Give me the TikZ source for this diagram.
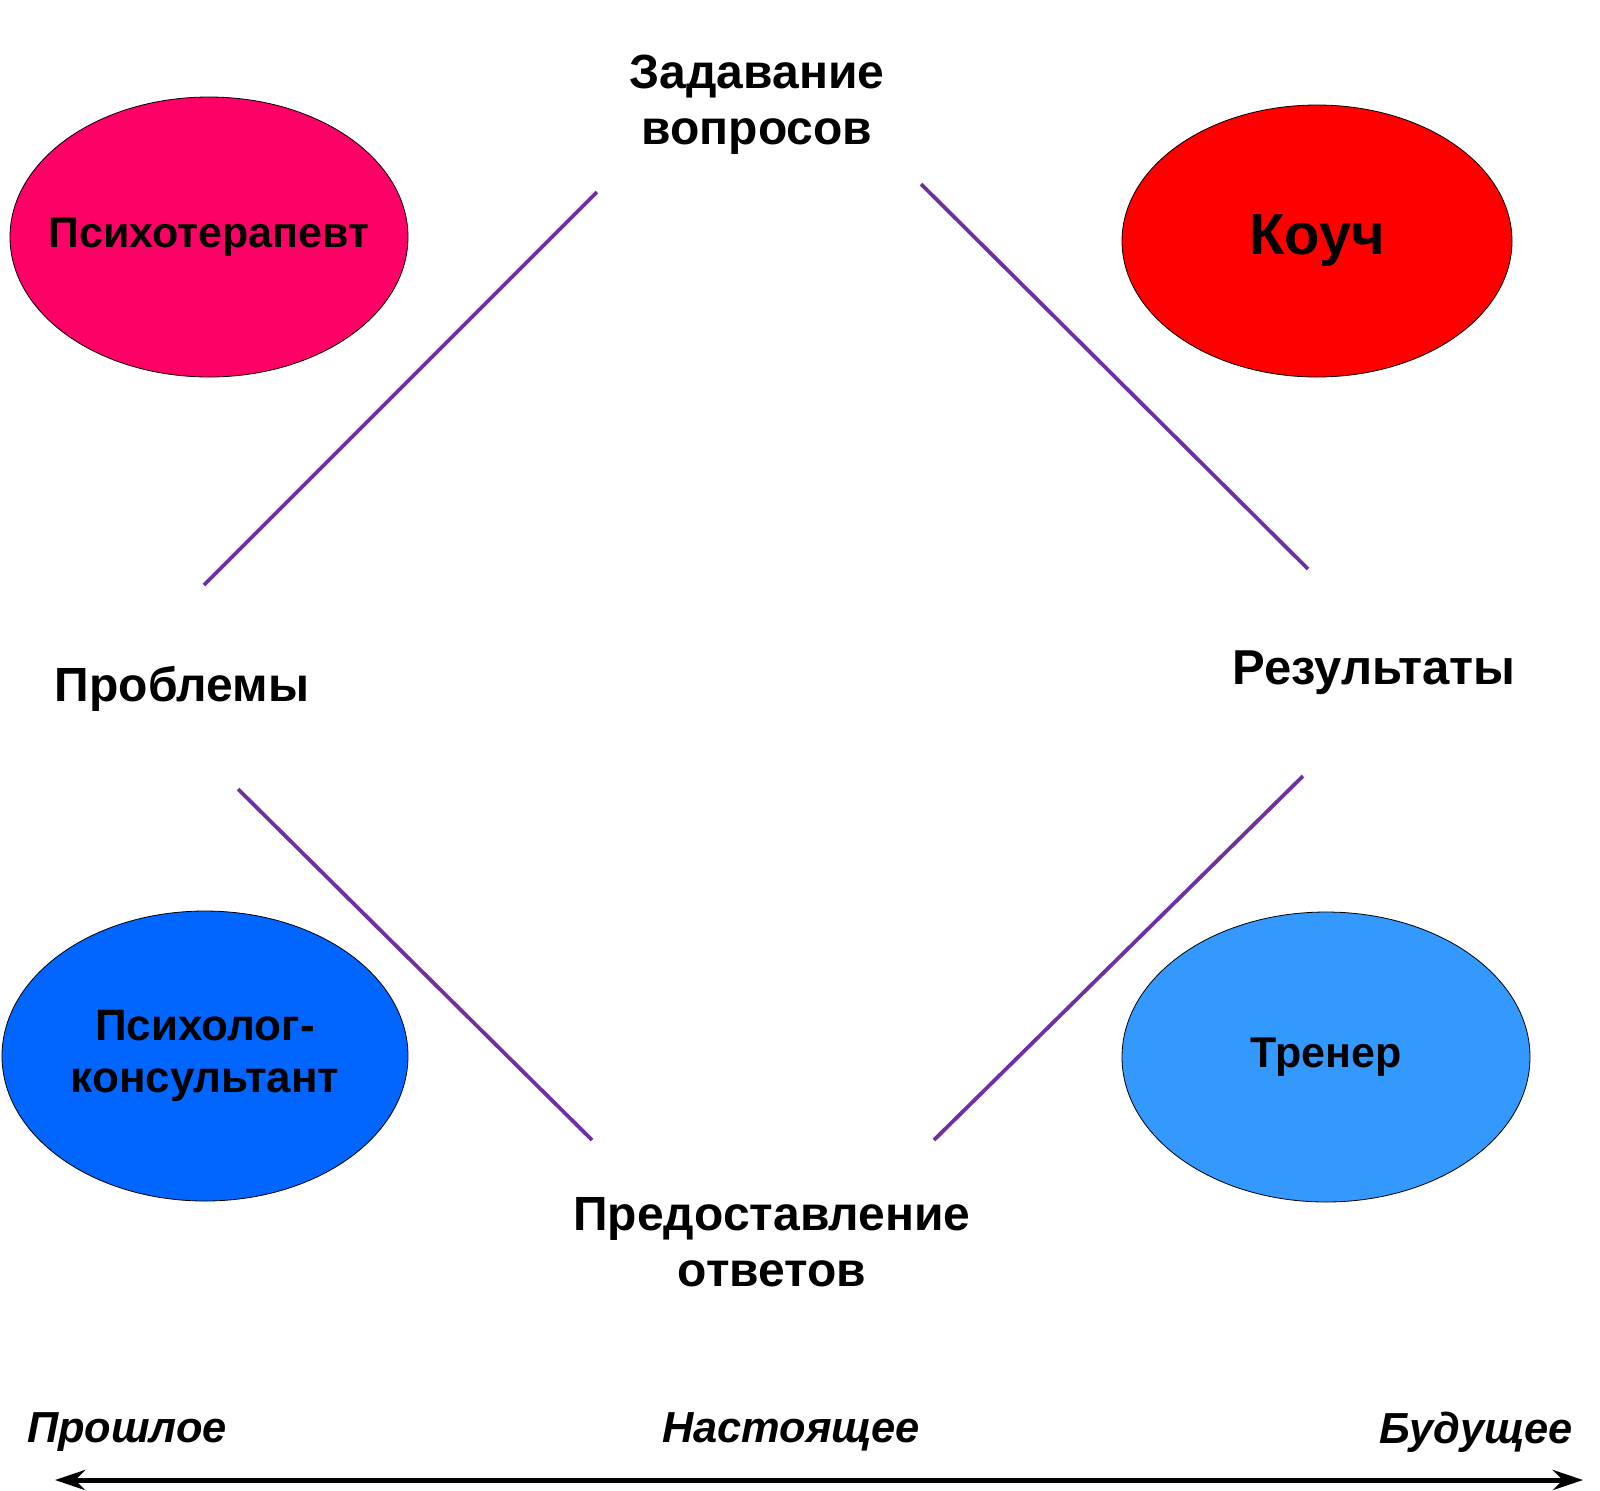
\documentclass[tikz,border=0pt]{standalone}
\usepackage{fontspec}
\setmainfont{Liberation Sans}
\usetikzlibrary{shapes.geometric,arrows.meta}
\definecolor{rose}{HTML}{FF0066}
\definecolor{deepblue}{HTML}{0066FF}
\definecolor{skyblue}{HTML}{3399FF}
\definecolor{violetline}{HTML}{7030A0}
\tikzset{
  role/.style={ellipse,draw=black,line width=0.4pt,inner sep=-40pt,align=center,font=\bfseries\fontsize{21.5}{25}\selectfont},
  label/.style={align=center,font=\bfseries\fontsize{24}{28}\selectfont},
  time/.style={font=\bfseries\itshape\fontsize{21.7}{26}\selectfont},
  link/.style={violetline,line width=1.9pt}
}
\begin{document}
\begin{tikzpicture}[x=0.5pt,y=-0.5pt]
	\useasboundingbox (0,0) rectangle (1600,1490);
	
	%roles
	\node[role,fill=rose,minimum width=199pt,minimum height=140pt] (psy) at (209,237) {Психотерапевт};
	\node[role,fill=red,minimum width=195pt,minimum height=136pt,font=\bfseries\fontsize{29}{33}\selectfont] (coach) at (1317,241) {\raisebox{-2.5pt}{Коуч}};
	\node[role,fill=deepblue,minimum width=203pt,minimum height=145pt,font=\bfseries\fontsize{22}{26}\selectfont] (cons) at (205,1056) {Психолог-\\консультант};
	\node[role,fill=skyblue,minimum width=204pt,minimum height=145pt] (trainer) at (1326,1057) {Тренер};
	
	%labels
	\node[label] (ask) at (757,105) {Задавание\\вопросов};
	\node[label] (prob) at (182,689) {Проблемы};
	\node[label,font=\bfseries\fontsize{24.5}{28}\selectfont] (res) at (1374,673) {Результаты};
	\node[label] (give) at (772,1242) {Предоставление\\ответов};
	
	%lines
	\coordinate (A1) at (204,585);
	\coordinate (A2) at (597,192);
	\coordinate (B1) at (921,184);
	\coordinate (B2) at (1308,569);
	\coordinate (C1) at (238,789);
	\coordinate (C2) at (592,1140);
	\coordinate (D1) at (1303,776);
	\coordinate (D2) at (934,1140);
	\draw[link] (A1)--(A2);
	\draw[link] (B1)--(B2);
	\draw[link] (C1)--(C2);
	\draw[link] (D1)--(D2);
	
	%time axis
	\node[time] (past) at (127,1432) {Прошлое};
	\node[time] (now) at (791,1432) {Настоящее};
	\node[time] (future) at (1476,1432) {Будущее};
	\coordinate (L) at (55,1480);
	\coordinate (R) at (1583,1480);
	\draw[line width=2.5pt,{Stealth[length=15pt,width=10pt]}-{Stealth[length=15pt,width=10pt]}] (L)--(R);
	
\end{tikzpicture}
\end{document}
